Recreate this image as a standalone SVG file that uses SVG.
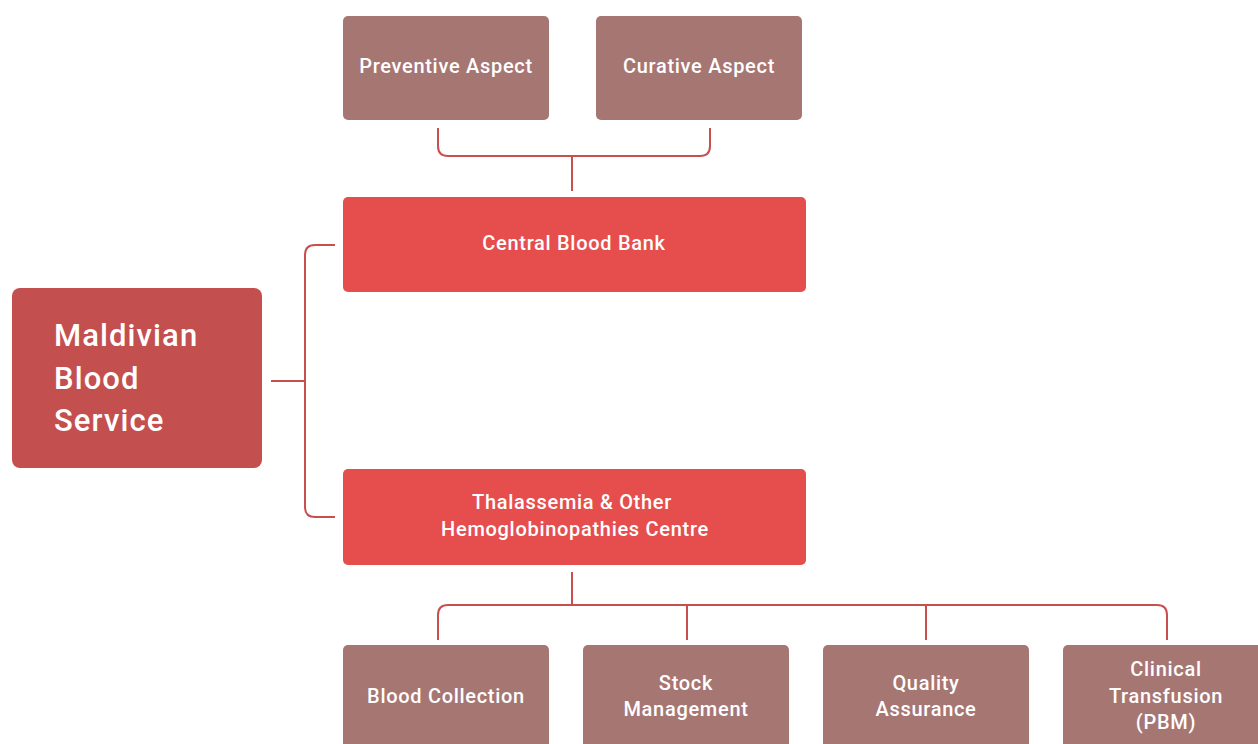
<svg xmlns="http://www.w3.org/2000/svg" width="1258" height="744" viewBox="0 0 1258 744">
<style>
.lbl{font-family:Roboto,"Liberation Sans",sans-serif;font-weight:500;font-size:20px;fill:#fff;text-anchor:middle;letter-spacing:0.7px}
.big{font-family:Roboto,"Liberation Sans",sans-serif;font-weight:500;font-size:31px;fill:#fff;letter-spacing:1.1px}
.sub{fill:#A67673}
.main{fill:#E64E4E}
.root{fill:#C44F4F}
.conn{fill:none;stroke:#C94F4F;stroke-width:2}
</style>
<rect width="1258" height="744" fill="#fff"/>
<g id="connectors">
<path class="conn" d="M438,128 V146 Q438,156 448,156 H700 Q710,156 710,146 V128"/>
<path class="conn" d="M572,156 V191"/>
<path class="conn" d="M271,381 H305"/>
<path class="conn" d="M335,245 H315 Q305,245 305,255 V507 Q305,517 315,517 H335"/>
<path class="conn" d="M572,572 V605"/>
<path class="conn" d="M438,640 V615 Q438,605 448,605 H1157 Q1167,605 1167,615 V640"/>
<path class="conn" d="M687,605 V640"/>
<path class="conn" d="M926,605 V640"/>
</g>
<g id="root">
<rect class="root" x="12" y="288" width="250" height="180" rx="8"/>
<text class="big" x="54" y="346">Maldivian</text>
<text class="big" x="54" y="389">Blood</text>
<text class="big" x="54" y="431">Service</text>
</g>
<g id="preventive">
<rect class="sub" x="343" y="16" width="206" height="104" rx="5"/>
<text class="lbl" x="446" y="73">Preventive Aspect</text>
</g>
<g id="curative">
<rect class="sub" x="596" y="16" width="206" height="104" rx="5"/>
<text class="lbl" x="699" y="73">Curative Aspect</text>
</g>
<g id="central">
<rect class="main" x="343" y="197" width="463" height="95" rx="5"/>
<text class="lbl" x="574" y="250">Central Blood Bank</text>
</g>
<g id="thalassemia">
<rect class="main" x="343" y="469" width="463" height="96" rx="5"/>
<text class="lbl" x="572" y="509">Thalassemia &amp; Other</text>
<text class="lbl" x="575" y="536">Hemoglobinopathies Centre</text>
</g>
<g id="blood-collection">
<rect class="sub" x="343" y="645" width="206" height="110" rx="5"/>
<text class="lbl" x="446" y="703">Blood Collection</text>
</g>
<g id="stock">
<rect class="sub" x="583" y="645" width="206" height="110" rx="5"/>
<text class="lbl" x="686" y="690">Stock</text>
<text class="lbl" x="686" y="716">Management</text>
</g>
<g id="quality">
<rect class="sub" x="823" y="645" width="206" height="110" rx="5"/>
<text class="lbl" x="926" y="690">Quality</text>
<text class="lbl" x="926" y="716">Assurance</text>
</g>
<g id="clinical">
<rect class="sub" x="1063" y="645" width="206" height="110" rx="5"/>
<text class="lbl" x="1166" y="676">Clinical</text>
<text class="lbl" x="1166" y="703">Transfusion</text>
<text class="lbl" x="1166" y="729">(PBM)</text>
</g>
</svg>
